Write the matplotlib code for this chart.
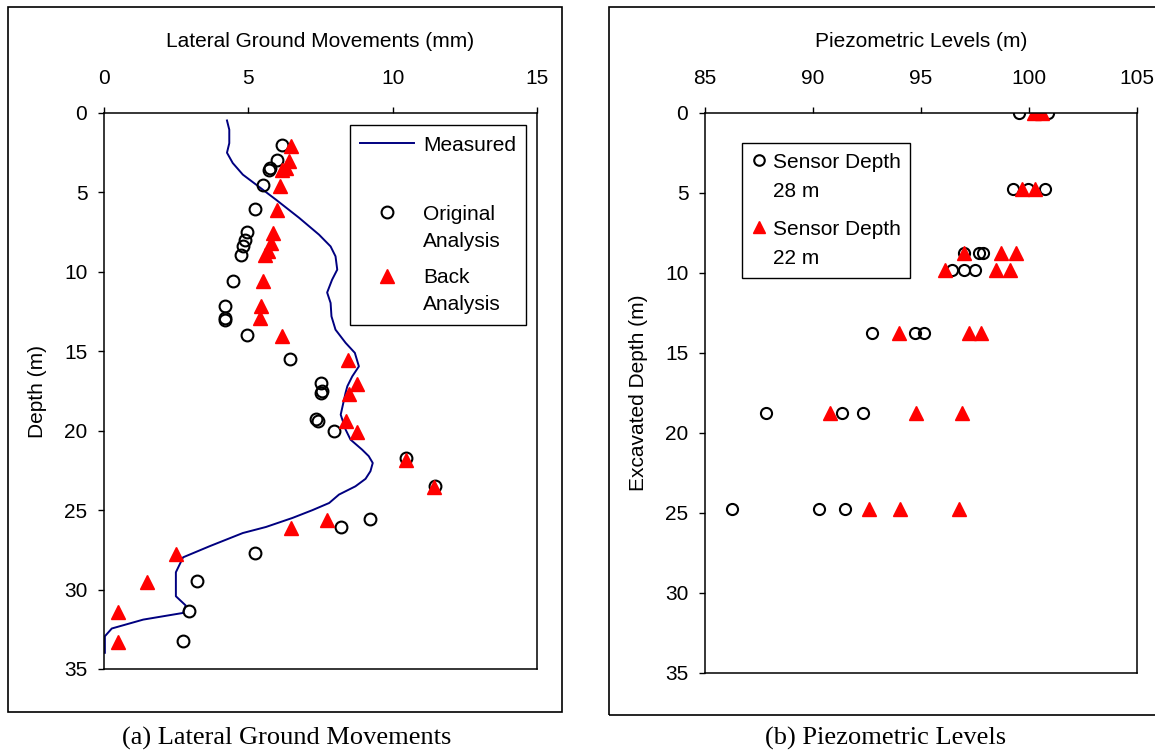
import matplotlib
matplotlib.use("Agg")
import matplotlib.pyplot as plt
from matplotlib.patches import Rectangle

plt.rcParams['font.family'] = ['Liberation Sans', 'DejaVu Sans']

# ---------------- data: (a) lateral ground movements ----------------
measured_mm = [4.26, 4.34, 4.34, 4.26, 4.46, 4.81, 5.38, 5.96, 6.76, 7.45, 7.85, 8.02, 8.08, 7.90,
               7.73, 7.85, 7.88, 8.02, 8.37, 8.69, 8.83, 8.60, 8.43, 8.37, 8.20, 8.37, 8.54, 8.94,
               9.17, 9.31, 9.23, 9.06, 8.71, 8.14, 7.80, 7.22, 6.53, 5.61, 4.81, 3.66, 2.74, 2.49,
               2.49, 2.83, 2.74, 1.36, 0.27, 0.03, 0.03]
measured_depth = [0.47, 1.05, 1.9, 2.5, 3.15, 3.88, 4.66, 5.46, 6.6, 7.66, 8.4, 9.02, 9.86, 10.5,
                  11.3, 11.96, 12.8, 13.64, 14.47, 15.1, 15.95, 16.58, 17.2, 17.6, 18.99, 19.93,
                  20.56, 21.19, 21.6, 22.03, 22.55, 23.03, 23.5, 24.02, 24.55, 25.0, 25.49, 26.06,
                  26.44, 27.27, 27.97, 28.91, 30.42, 31.0, 31.47, 31.89, 32.45, 32.94, 33.98]

original_mm = [6.18, 5.99, 5.75, 5.70, 5.50, 5.22, 4.95, 4.87, 4.81, 4.75, 4.46, 4.20, 4.19, 4.20,
               4.95, 6.45, 7.50, 7.54, 7.50, 7.33, 7.42, 7.98, 10.46, 11.45, 9.23, 8.20, 5.23,
               3.23, 2.94, 2.75]
original_depth = [2.0, 2.98, 3.46, 3.57, 4.51, 6.02, 7.51, 7.97, 8.4, 8.92, 10.55, 12.17, 12.9,
                  13.0, 13.95, 15.46, 17.0, 17.5, 17.65, 19.26, 19.4, 20.04, 21.71, 23.46, 25.55,
                  26.06, 27.7, 29.46, 31.32, 33.25]

back_mm = [6.47, 6.41, 6.30, 6.18, 6.09, 5.99, 5.84, 5.78, 5.67, 5.57, 5.50, 5.44, 5.41, 6.18,
           8.46, 8.77, 8.48, 8.39, 8.75, 10.46, 11.44, 7.71, 6.47, 2.49, 1.50, 0.47, 0.47]
back_depth = [2.1, 3.05, 3.46, 3.61, 4.58, 6.09, 7.55, 8.18, 8.71, 8.92, 10.6, 12.17, 12.9, 14.06,
              15.53, 17.04, 17.67, 19.4, 20.1, 21.82, 23.54, 25.6, 26.12, 27.74, 29.52, 31.4, 33.3]

# ---------------- data: (b) piezometric levels ----------------
s28_level = [99.56, 100.9, 99.24, 99.95, 100.75, 96.97, 97.67, 97.87, 96.44, 96.97, 97.48,
             92.71, 94.74, 95.13, 87.81, 91.32, 92.32, 86.23, 90.3, 91.5]
s28_depth = [0, 0, 4.75, 4.75, 4.75, 8.75, 8.75, 8.75, 9.8, 9.8, 9.8,
             13.75, 13.75, 13.75, 18.75, 18.75, 18.75, 24.75, 24.75, 24.75]
s22_level = [100.21, 100.6, 99.67, 100.26, 96.97, 98.72, 99.41, 96.1, 98.49, 99.13,
             93.97, 97.21, 97.78, 90.81, 94.79, 96.91, 92.58, 94.05, 96.74]
s22_depth = [0, 0, 4.75, 4.75, 8.75, 8.75, 8.75, 9.8, 9.8, 9.8,
             13.75, 13.75, 13.75, 18.75, 18.75, 18.75, 24.75, 24.75, 24.75]

depth_ticks = [0, 5, 10, 15, 20, 25, 30, 35]
lat_ticks = [0, 5, 10, 15]
piezo_ticks = [85, 90, 95, 100, 105]

W, H = 1155, 753
FS = 15
fig = plt.figure(figsize=(W / 100, H / 100), dpi=100)

# chart-area borders
fig.patches.append(Rectangle((8 / W, 1 - 712 / H), (562 - 8) / W, (712 - 7) / H,
                             transform=fig.transFigure, fill=False, lw=1.2, edgecolor='black'))
fig.patches.append(Rectangle((609 / W, 1 - 715 / H), (1165 - 609) / W, (715 - 7) / H,
                             transform=fig.transFigure, fill=False, lw=1.2, edgecolor='black'))

ax1 = fig.add_axes([104 / W, 1 - 669 / H, 433 / W, 556 / H])
ax2 = fig.add_axes([705 / W, 1 - 672.6 / H, 432 / W, 559.6 / H])


def style(ax):
    ax.xaxis.tick_top()
    ax.xaxis.set_label_position('top')
    ax.tick_params(direction='out', length=4, width=1, labelsize=FS, colors='black')
    ax.tick_params(axis='x', pad=14)
    ax.tick_params(axis='y', pad=8)
    for s in ax.spines.values():
        s.set_linewidth(1.1)
        s.set_color('black')
    ax.set_ylim(35, 0)
    ax.set_yticks(depth_ticks)


def align_top(leg):
    for col in leg._legend_handle_box.get_children():
        for row in col.get_children():
            row.align = 'top'


# (a)
ax1.plot(measured_mm, measured_depth, color='#000080', lw=1.4, label='Measured')
ax1.plot([], [], ls='none', label=' ')
ax1.plot(original_mm, original_depth, ls='none', marker='o', ms=8.5, mfc='none',
         mec='black', mew=1.5, label='Original\nAnalysis')
ax1.plot(back_mm, back_depth, ls='none', marker='^', ms=9.5, color='#ff0000', mec='#ff0000',
         label='Back\nAnalysis')
ax1.set_xlim(0, 15)
ax1.set_xticks(lat_ticks)
style(ax1)
ax1.set_xlabel('Lateral Ground Movements (mm)', fontsize=FS, labelpad=16)
ax1.set_ylabel('Depth (m)', fontsize=FS, labelpad=12)
leg1 = ax1.legend(loc='upper right', bbox_to_anchor=(0.975, 0.978), borderaxespad=0,
                  fontsize=FS, frameon=True, fancybox=False, edgecolor='black', framealpha=1,
                  borderpad=0.5, labelspacing=0.85, handlelength=2.6, handletextpad=0.4)
leg1.get_frame().set_linewidth(1.0)
for t in leg1.get_texts():
    t.set_linespacing(1.53)
leg1.get_texts()[1].set_fontsize(3)
align_top(leg1)

# (b)
ax2.plot(s28_level, s28_depth, ls='none', marker='o', ms=8, mfc='none', mec='black', mew=1.5,
         label='Sensor Depth\n28 m')
ax2.plot(s22_level, s22_depth, ls='none', marker='^', ms=9.5, color='#ff0000', mec='#ff0000',
         label='Sensor Depth\n22 m')
ax2.set_xlim(85, 105)
ax2.set_xticks(piezo_ticks)
style(ax2)
ax2.set_xlabel('Piezometric Levels (m)', fontsize=FS, labelpad=16)
ax2.set_ylabel('Excavated Depth (m)', fontsize=FS, labelpad=12)
leg2 = ax2.legend(loc='upper left', bbox_to_anchor=(0.0856, 0.946), borderaxespad=0,
                  fontsize=FS, frameon=True, fancybox=False, edgecolor='black', framealpha=1,
                  borderpad=0.45, labelspacing=0.9, handlelength=0.7, handletextpad=0.35,
                  markerscale=0.95)
leg2.get_frame().set_linewidth(1.0)
for t in leg2.get_texts():
    t.set_linespacing(1.7)
align_top(leg2)

# captions
fig.text(287 / W, 1 - 738 / H, '(a) Lateral Ground Movements', ha='center', va='center',
         fontsize=19, family='Liberation Serif')
fig.text(886 / W, 1 - 738 / H, '(b) Piezometric Levels', ha='center', va='center',
         fontsize=19, family='Liberation Serif')

fig.savefig('out.png', dpi=100)
